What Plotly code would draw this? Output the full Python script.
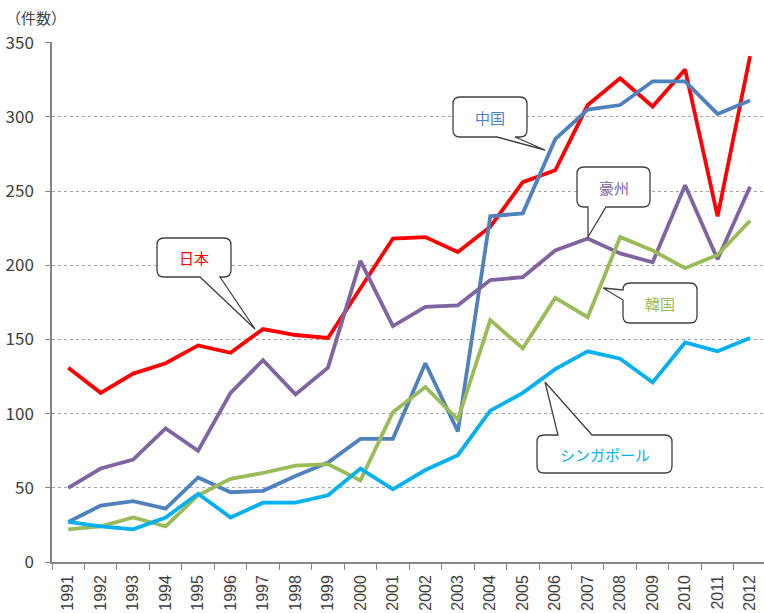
import plotly.graph_objects as go

years = [str(y) for y in range(1991, 2013)]
japan = [131, 114, 127, 134, 146, 141, 157, 153, 151, 184, 218, 219, 209, 226, 256, 264, 308, 326, 307, 332, 233, 341]
china = [27, 38, 41, 36, 57, 47, 48, 58, 67, 83, 83, 134, 88, 233, 235, 285, 305, 308, 324, 324, 302, 311]
australia = [50, 63, 69, 90, 75, 114, 136, 113, 131, 203, 159, 172, 173, 190, 192, 210, 218, 208, 202, 254, 204, 253]
korea = [22, 24, 30, 24, 45, 56, 60, 65, 66, 55, 101, 118, 96, 163, 144, 178, 165, 219, 210, 198, 207, 230]
singapore = [27, 24, 22, 30, 46, 30, 40, 40, 45, 63, 49, 62, 72, 102, 114, 130, 142, 137, 121, 148, 142, 151]
y_ticks = [0, 50, 100, 150, 200, 250, 300, 350]

C_JP = "#FF0000"
C_CN = "#4F81BD"
C_AU = "#8064A2"
C_KR = "#9BBB59"
C_SG = "#00B0F0"

W, H = 764, 613
L, R, T, B = 52, 0, 42, 51
PW = W - L - R
PH = H - T - B

FONT = "Noto Sans CJK JP"

fig = go.Figure()
for name, vals, col in [("日本", japan, C_JP), ("中国", china, C_CN), ("豪州", australia, C_AU),
                        ("韓国", korea, C_KR), ("シンガポール", singapore, C_SG)]:
    fig.add_trace(go.Scatter(x=years, y=vals, mode="lines", name=name,
                             line=dict(color=col, width=3.8), showlegend=False))


def X(px):
    return (px - L) / PW


def Y(py):
    return (H - B - py) / PH


def callout(x0, y0, x1, y1, side, b1, b2, tip, r=7):
    bl, bh = min(b1, b2), max(b1, b2)
    tx, ty = tip
    p = f"M {X(x0 + r)},{Y(y0)} "
    if side == "top":
        p += f"L {X(bl)},{Y(y0)} L {X(tx)},{Y(ty)} L {X(bh)},{Y(y0)} "
    p += f"L {X(x1 - r)},{Y(y0)} Q {X(x1)},{Y(y0)} {X(x1)},{Y(y0 + r)} "
    p += f"L {X(x1)},{Y(y1 - r)} Q {X(x1)},{Y(y1)} {X(x1 - r)},{Y(y1)} "
    if side == "bottom":
        p += f"L {X(bh)},{Y(y1)} L {X(tx)},{Y(ty)} L {X(bl)},{Y(y1)} "
    p += f"L {X(x0 + r)},{Y(y1)} Q {X(x0)},{Y(y1)} {X(x0)},{Y(y1 - r)} "
    if side == "left":
        p += f"L {X(x0)},{Y(bh)} L {X(tx)},{Y(ty)} L {X(x0)},{Y(bl)} "
    p += f"L {X(x0)},{Y(y0 + r)} Q {X(x0)},{Y(y0)} {X(x0 + r)},{Y(y0)} Z"
    return p


callouts = [
    ("中国", C_CN, (453, 97, 527, 137), "bottom", 497, 515, (545, 150)),
    ("豪州", C_AU, (577, 167, 650, 207), "bottom", 588, 606, (588, 237)),
    ("韓国", C_KR, (623, 283, 697, 323), "left", 290, 300, (603, 288)),
    ("日本", C_JP, (157, 238, 231, 277), "bottom", 200, 220, (255, 329)),
    ("シンガポール", C_SG, (537, 435, 672, 473), "top", 558, 592, (545, 382)),
]
shapes = []
annotations = []
for txt, col, (x0, y0, x1, y1), side, b1, b2, tip in callouts:
    shapes.append(dict(type="path", xref="paper", yref="paper",
                       path=callout(x0, y0, x1, y1, side, b1, b2, tip),
                       fillcolor="white", line=dict(color="#404040", width=1.3)))
    annotations.append(dict(xref="paper", yref="paper", x=X((x0 + x1) / 2), y=Y((y0 + y1) / 2),
                            text=txt, showarrow=False, xanchor="center", yanchor="middle",
                            font=dict(family=FONT, size=15, color=col)))

annotations.append(dict(xref="paper", yref="paper", x=X(4), y=Y(18), text="（件数）",
                        showarrow=False, xanchor="left", yanchor="middle",
                        font=dict(family=FONT, size=15, color="#404040")))

fig.update_layout(
    width=W, height=H,
    margin=dict(l=L, r=R, t=T, b=B, pad=0),
    paper_bgcolor="white", plot_bgcolor="white",
    font=dict(family=FONT, color="#404040"),
    shapes=shapes, annotations=annotations,
    xaxis=dict(type="category", range=[-0.5, 21.43], tickangle=-90, tickson="boundaries",
               ticks="outside", ticklen=6, tickcolor="#868686", showline=True,
               linecolor="#868686", linewidth=1.5, showgrid=False, ticklabelstandoff=5,
               tickfont=dict(family="Liberation Sans", size=16, color="#404040")),
    yaxis=dict(range=[0, 350.5], tickvals=y_ticks, ticks="outside", ticklen=5,
               tickcolor="#868686", showline=True, linecolor="#868686", linewidth=1.5,
               ticklabelstandoff=8,
               showgrid=True, gridcolor="#a6a6a6", griddash="dot", gridwidth=1,
               zeroline=False, tickfont=dict(family=FONT, size=17, color="#404040")),
)

fig.write_html("out.html", config={"displayModeBar": False},
               post_script="document.body.style.margin='0';document.body.style.overflow='hidden';")
